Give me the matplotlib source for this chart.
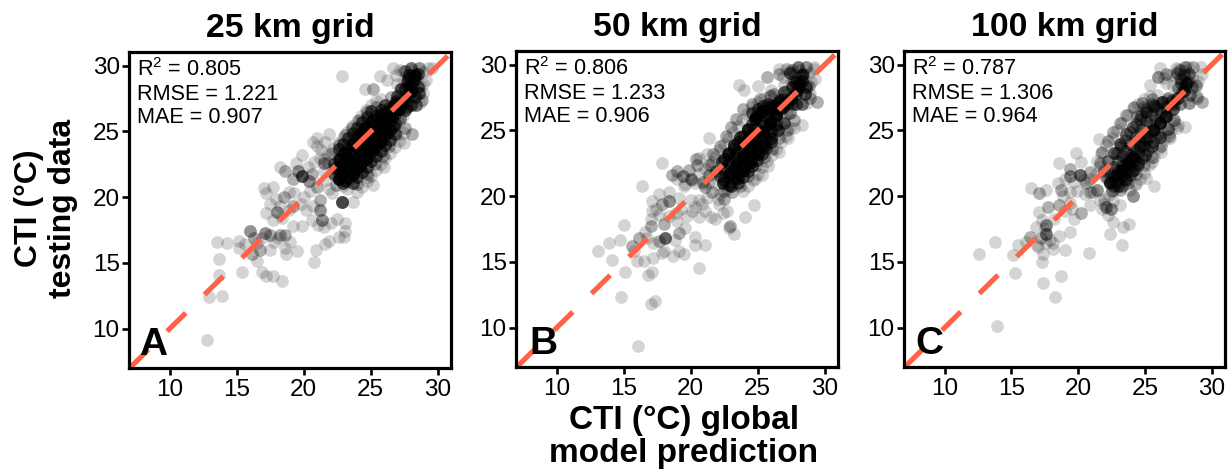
import numpy as np
import matplotlib
matplotlib.use("Agg")
import matplotlib.pyplot as plt

plt.rcParams['font.family'] = ['Liberation Sans', 'DejaVu Sans']
plt.rcParams['mathtext.default'] = 'regular'

titles = ["25 km grid", "50 km grid", "100 km grid"]
letters = ["A", "B", "C"]
letter_x = [0.03, 0.042, 0.036]
r2 = ["0.805", "0.806", "0.787"]
rmse = ["1.221", "1.233", "1.306"]
mae = ["0.907", "0.906", "0.964"]
ticks = [10, 15, 20, 25, 30]

# panel A: x, y and how many points sit on top of each other there
a_x = [12.8, 12.9, 13.9, 13.7, 13.7, 13.5, 14.3, 15.4, 15.2, 15.2,
       16.9, 17.2, 17.7, 18.4, 16.5, 16.1, 16.7, 17.5, 18.6, 18.7,
       19.5, 20.8, 20.9, 21.6, 21.9, 22.6, 23.1, 23.1, 22.5, 20.6,
       21.4, 19.85, 19.2, 18.6, 18.2, 17.5, 16.0, 17.1, 16.3, 15.6,
       18.0, 17.2, 17.5, 18.5, 17.7, 17.0, 17.2, 19.2, 19.8, 18.9,
       19.9, 19.2, 20.4, 19.6, 20.6, 18.2, 18.6, 19.4, 19.9, 20.7,
       21.0, 22.85, 28.1, 27.5, 26.0, 25.2, 24.8, 23.7, 22.85, 21.2,
       21.2, 21.0, 20.5, 20.0, 21.5, 21.3, 21.9, 24.6, 25.2, 25.7,
       22.6, 23.1, 23.6, 24.1, 24.6, 25.1, 25.6, 26.1, 26.6, 27.1,
       22.3, 22.7, 23.1, 23.6, 24.1, 24.6, 25.2, 25.8, 26.4, 21.8,
       23.1, 23.7, 24.2, 24.7, 25.2, 25.7, 26.2, 26.7, 27.2, 22.1,
       22.6, 23.1, 23.6, 24.1, 24.7, 25.4, 22.4, 23.2, 24.0, 24.7,
       25.3, 25.9, 26.4, 27.0, 27.6, 27.5, 27.9, 28.1, 27.7, 28.3,
       27.6, 28.0, 28.6, 27.2, 26.7, 29.6, 28.9, 28.8, 28.4, 27.7,
       26.9, 26.5, 26.2]
a_y = [9.1, 12.4, 12.5, 14.1, 15.3, 16.6, 16.55, 14.3, 16.7, 16.1,
       14.3, 14.0, 14.0, 13.65, 15.15, 15.7, 16.0, 16.0, 16.1, 15.7,
       15.9, 15.05, 16.0, 16.4, 16.7, 17.0, 17.4, 18.05, 18.35, 18.3,
       18.3, 17.8, 17.8, 17.1, 17.1, 17.1, 17.4, 17.3, 16.9, 16.4,
       18.9, 18.8, 19.5, 20.0, 20.8, 20.7, 20.3, 19.3, 19.5, 19.0,
       21.6, 21.4, 21.2, 22.0, 21.8, 22.3, 22.0, 22.6, 23.2, 24.2,
       23.9, 29.2, 24.8, 24.1, 22.3, 20.9, 21.5, 19.6, 19.6, 19.8,
       19.0, 20.8, 20.5, 20.0, 22.6, 23.6, 24.8, 28.2, 28.2, 29.2,
       21.4, 22.1, 22.7, 23.3, 23.9, 24.5, 25.1, 25.7, 26.2, 26.7,
       22.2, 22.9, 23.4, 24.0, 24.7, 25.3, 25.9, 26.3, 26.8, 22.6,
       21.2, 21.8, 22.4, 23.0, 23.6, 24.2, 24.9, 25.4, 26.0, 23.4,
       24.0, 24.7, 25.3, 25.9, 26.5, 26.9, 20.9, 20.6, 21.0, 21.8,
       22.5, 23.1, 23.9, 24.7, 25.3, 27.5, 28.0, 28.6, 28.8, 29.3,
       29.6, 29.8, 29.8, 29.7, 29.8, 29.8, 28.6, 27.4, 27.0, 26.9,
       27.2, 27.6, 28.9]
a_n = [1, 1, 1, 1, 1, 1, 1, 1, 1, 1,
       1, 1, 1, 1, 1, 2, 2, 1, 1, 1,
       1, 1, 1, 1, 1, 1, 1, 1, 1, 1,
       3, 1, 1, 2, 2, 2, 3, 3, 2, 1,
       3, 1, 1, 2, 1, 1, 1, 2, 1, 1,
       6, 2, 3, 3, 2, 1, 2, 1, 1, 1,
       1, 1, 2, 1, 1, 1, 1, 1, 7, 2,
       3, 2, 1, 1, 3, 1, 1, 1, 2, 1,
       7, 9, 9, 9, 9, 9, 9, 9, 8, 6,
       5, 7, 7, 7, 7, 7, 7, 7, 5, 1,
       5, 6, 7, 7, 7, 7, 6, 5, 3, 2,
       2, 2, 2, 2, 2, 2, 2, 1, 2, 2,
       2, 2, 2, 1, 2, 4, 5, 5, 4, 4,
       3, 4, 3, 1, 1, 1, 1, 2, 4, 4,
       4, 2, 1]
a_core_x = [22.6, 22.95, 23.3, 23.65, 24.0, 24.35, 24.7, 25.05, 25.4, 25.75, 26.1, 26.45, 26.8, 27.1,
            22.25, 22.6, 22.95, 23.3, 23.65, 24.0, 24.35, 24.7, 25.05, 25.4, 25.75, 26.1, 26.45, 26.75,
            22.25, 22.6, 22.95, 23.3, 23.65, 24.0, 24.35, 24.7, 25.05, 25.4, 25.75, 26.1,
            22.6, 22.95, 23.3, 23.65, 24.0, 24.35, 24.7, 25.05,
            22.95, 23.3, 23.65, 24.0, 24.35, 24.7, 25.05, 25.4, 25.75, 26.1, 26.45, 26.8,
            23.65, 24.0, 24.35, 24.7, 25.05, 25.4, 25.75, 26.1, 26.45, 26.8,
            27.6, 27.9, 28.1, 27.9, 28.2, 27.6, 28.3, 27.3, 26.9, 28.3, 27.9,
            27.3, 27.0, 28.5, 28.6, 28.0, 27.6, 27.8, 28.5]
a_core_y = [21.4, 21.8, 22.2, 22.6, 23.0, 23.45, 23.85, 24.25, 24.65, 25.05, 25.5, 25.9, 26.3, 26.7,
            21.75, 22.15, 22.55, 22.95, 23.35, 23.8, 24.2, 24.6, 25.0, 25.4, 25.85, 26.25, 26.65, 27.05,
            22.5, 22.9, 23.3, 23.7, 24.15, 24.55, 24.95, 25.35, 25.75, 26.2, 26.6, 27.0,
            23.65, 24.05, 24.5, 24.9, 25.3, 25.7, 26.1, 26.55,
            21.05, 21.45, 21.85, 22.25, 22.65, 23.1, 23.5, 23.9, 24.3, 24.7, 25.15, 25.55,
            21.1, 21.5, 21.9, 22.3, 22.75, 23.15, 23.55, 23.95, 24.35, 24.8,
            27.3, 27.7, 28.1, 28.5, 28.9, 28.2, 27.6, 27.0, 27.3, 29.3, 29.3,
            28.2, 27.7, 28.4, 27.9, 27.0, 26.6, 29.0, 29.4]
a_fill_x = [22.4, 22.8, 23.15, 23.5, 23.85, 24.2, 24.55, 24.9, 25.25, 25.6, 25.95, 26.3, 26.65, 27.0,
            22.9, 23.25, 23.6, 23.95, 24.3, 24.65, 25.0, 25.35, 25.7, 26.05, 26.4, 26.75, 27.1, 27.4,
            21.5, 21.85, 22.2, 22.55, 22.9, 23.25, 23.6, 23.95, 24.3, 24.65, 25.0, 25.4, 25.8,
            24.0, 24.35, 24.7, 25.05, 25.4, 25.75, 26.1, 26.45, 26.8, 27.15, 27.5,
            27.2, 27.5, 27.8, 28.1, 28.4, 28.7, 27.4, 27.0, 26.9, 28.7, 28.9, 29.1, 28.9, 29.3,
            20.8, 21.2, 21.5, 21.7, 21.9, 22.1, 20.3, 21.0, 21.6,
            16.5, 16.9, 17.8, 18.1, 19.0, 18.4, 17.7, 18.2, 17.9, 18.9, 19.3, 20.2, 20.7, 21.5, 21.1, 22.0, 23.0]
a_fill_y = [22.0, 22.4, 22.8, 23.2, 23.6, 24.0, 24.4, 24.85, 25.25, 25.65, 26.05, 26.5, 26.9, 27.3,
            20.85, 21.25, 21.65, 22.05, 22.45, 22.85, 23.3, 23.7, 24.1, 24.5, 24.95, 25.35, 25.75, 26.15,
            22.9, 23.3, 23.7, 24.1, 24.5, 24.95, 25.4, 25.8, 26.2, 26.6, 27.0, 27.3, 27.5,
            20.4, 20.8, 21.2, 21.65, 22.05, 22.5, 22.95, 23.4, 23.85, 24.3, 24.9,
            28.2, 28.8, 29.3, 29.7, 29.0, 28.5, 29.6, 28.6, 29.3, 27.2, 27.9, 28.9, 29.5, 29.8,
            22.7, 23.0, 22.0, 21.3, 20.6, 20.3, 22.3, 24.5, 24.2,
            16.5, 16.9, 16.6, 16.9, 16.6, 18.4, 18.3, 19.3, 19.9, 20.4, 20.3, 19.0, 19.3, 17.7, 17.9, 18.0, 17.0]

# panel B
b_x = [16.05, 14.8, 17.0, 17.35, 15.1, 16.8, 17.1, 20.65, 14.15, 13.1,
       13.9, 14.75, 15.0, 16.35, 17.85, 15.98, 16.5, 17.2, 17.85, 18.7,
       19.1, 19.5, 20.35, 21.1, 20.3, 15.6, 16.1, 15.75, 18.1, 17.6,
       19.1, 18.85, 17.0, 18.0, 16.75, 17.1, 17.85, 18.35, 17.6, 17.1,
       17.6, 18.35, 19.1, 19.0, 19.7, 20.35, 20.85, 21.1, 21.5, 21.85,
       22.7, 24.05, 24.7, 22.95, 23.2, 22.85, 20.1, 22.1, 20.6, 18.6,
       19.4, 20.0, 19.0, 20.4, 20.5, 19.9, 20.9, 21.4, 21.1, 21.6,
       22.5, 21.4, 23.6, 24.0, 25.0, 25.7, 26.0, 26.6, 27.2, 29.2,
       29.3, 29.4, 28.3, 27.7, 27.3, 26.6, 25.8, 25.3, 24.8,
       22.4, 22.9, 23.4, 23.9, 24.4, 24.9, 25.4, 25.9, 26.4, 26.9,
       21.9, 22.3, 22.8, 23.2, 23.7, 24.3, 24.8, 25.4, 26.0, 26.6,
       23.0, 23.5, 24.0, 24.5, 25.0, 25.5, 26.0, 26.5, 27.0, 27.4,
       21.4, 21.7, 22.2, 22.6, 23.0, 23.4, 23.9, 24.6, 25.2, 25.9,
       22.5, 23.1, 23.7, 24.3, 24.9, 25.5, 26.1, 26.6, 27.2, 27.7,
       27.5, 27.9, 28.1, 27.7, 28.4, 27.6, 28.0, 28.6, 27.1, 26.6,
       28.8, 28.9, 28.3, 27.6, 26.9, 26.2, 25.9]
b_y = [8.6, 12.3, 11.8, 12.0, 14.2, 14.0, 14.25, 14.55, 15.15, 15.8,
       16.4, 16.65, 17.8, 20.8, 22.5, 15.08, 15.1, 15.3, 15.65, 15.45,
       15.85, 15.6, 16.3, 16.3, 16.9, 16.2, 16.85, 15.85, 16.8, 16.6,
       17.2, 16.7, 17.75, 17.9, 16.85, 19.65, 19.4, 19.65, 20.15, 18.9,
       18.6, 20.3, 19.9, 18.1, 18.5, 19.15, 19.4, 18.9, 18.4, 18.25,
       18.9, 18.4, 19.3, 17.75, 17.15, 17.6, 18.9, 19.4, 18.4, 21.65,
       21.5, 21.3, 21.9, 22.8, 22.4, 22.0, 21.05, 21.6, 20.7, 20.3,
       19.8, 24.4, 28.5, 28.1, 28.4, 29.1, 28.1, 29.7, 29.7, 29.8,
       28.9, 27.2, 25.4, 25.2, 24.4, 23.4, 22.3, 21.6, 21.3,
       21.0, 21.7, 22.4, 23.0, 23.6, 24.2, 24.9, 25.6, 26.2, 26.8,
       21.9, 22.6, 23.2, 23.9, 24.5, 25.1, 25.9, 26.5, 26.9, 27.2,
       20.8, 21.4, 22.0, 22.6, 23.2, 23.8, 24.4, 25.0, 25.6, 26.3,
       22.4, 23.2, 23.8, 24.6, 25.3, 25.9, 26.6, 27.0, 27.4, 27.6,
       20.4, 20.3, 20.8, 21.5, 22.4, 23.0, 23.6, 24.4, 25.0, 25.8,
       27.5, 28.0, 28.6, 28.8, 29.3, 29.6, 29.8, 29.8, 29.7, 29.3,
       28.4, 27.5, 27.0, 27.0, 27.4, 27.8, 26.7]
b_n = [1, 1, 1, 1, 1, 1, 1, 1, 1, 1,
       1, 1, 1, 1, 1, 1, 1, 1, 1, 1,
       1, 1, 1, 1, 1, 2, 2, 1, 5, 2,
       2, 1, 2, 2, 1, 1, 2, 3, 1, 1,
       1, 1, 1, 1, 1, 1, 1, 1, 1, 1,
       1, 1, 1, 2, 1, 1, 1, 1, 1, 2,
       3, 3, 2, 2, 2, 2, 2, 3, 2, 2,
       2, 1, 1, 1, 1, 2, 1, 1, 1, 1,
       1, 2, 1, 1, 1, 1, 1, 1, 1,
       7, 9, 9, 9, 9, 9, 10, 10, 9, 7,
       4, 6, 7, 7, 7, 7, 9, 9, 6, 4,
       5, 6, 7, 7, 7, 7, 7, 6, 5, 3,
       2, 2, 2, 2, 2, 2, 2, 2, 2, 2,
       2, 2, 2, 2, 2, 2, 2, 2, 2, 2,
       4, 6, 6, 4, 4, 2, 4, 3, 1, 2,
       2, 2, 4, 3, 3, 2, 4]
b_core_x = [22.5, 22.85, 23.2, 23.55, 23.9, 24.25, 24.6, 24.95, 25.3, 25.65, 26.0, 26.35, 26.7, 27.0,
            22.15, 22.5, 22.85, 23.2, 23.55, 23.9, 24.25, 24.6, 24.95, 25.3, 25.65, 26.0, 26.35, 26.65,
            22.5, 22.85, 23.2, 23.55, 23.9, 24.25, 24.6, 24.95, 25.3,
            24.6, 25.0, 25.4, 25.8, 24.9,
            22.85, 23.2, 23.55, 23.9, 24.25, 24.6, 24.95, 25.3, 25.65, 26.0, 26.35,
            23.55, 23.9, 24.25, 24.6, 24.95, 25.3, 25.65, 26.0,
            27.5, 27.9, 28.1, 27.9, 28.3, 27.6, 27.3, 28.3,
            27.0, 28.6, 28.5, 27.9, 27.4]
b_core_y = [21.2, 21.7, 22.15, 22.6, 23.0, 23.45, 23.9, 24.35, 24.8, 25.3, 25.75, 26.2, 26.6, 27.0,
            21.55, 22.05, 22.5, 22.95, 23.35, 23.8, 24.25, 24.7, 25.15, 25.65, 26.1, 26.55, 26.95, 27.35,
            22.85, 23.3, 23.7, 24.15, 24.6, 25.05, 25.5, 26.0, 26.45,
            26.3, 26.6, 26.9, 27.0, 26.0,
            20.85, 21.35, 21.8, 22.25, 22.65, 23.1, 23.55, 24.0, 24.45, 24.95, 25.4,
            21.0, 21.45, 21.9, 22.3, 22.75, 23.2, 23.65, 24.1,
            27.4, 27.8, 28.2, 28.7, 28.8, 28.3, 27.1, 29.2,
            27.9, 28.3, 27.8, 27.0, 29.4]
b_fill_x = [22.3, 22.65, 23.0, 23.4, 23.75, 24.1, 24.45, 24.8, 25.15, 25.5, 25.85, 26.2, 26.55, 26.85,
            22.7, 23.05, 23.4, 23.75, 24.1, 24.45, 24.8, 25.15, 25.5, 25.85, 26.2, 26.55, 26.9, 27.2,
            21.5, 21.8, 22.1, 22.45, 22.8, 23.15, 23.5, 23.85, 24.2, 24.6, 25.0, 25.5, 26.0,
            23.9, 24.3, 24.65, 25.0, 25.35, 25.7, 26.05, 26.4, 26.75, 27.1, 27.4,
            27.2, 27.5, 27.8, 28.1, 28.4, 28.7, 27.4, 27.0, 26.9, 28.7, 28.9, 29.0, 28.8, 29.2,
            20.1, 20.6, 21.1, 21.6, 19.6, 20.3, 20.9, 21.4, 19.0, 19.5, 21.9, 22.2, 20.6, 21.2,
            17.0, 17.4, 18.9, 19.3, 20.0, 20.6, 21.2, 22.0, 22.4, 18.4, 16.6, 17.2, 19.6, 18.0]
b_fill_y = [21.9, 22.4, 22.85, 23.3, 23.7, 24.15, 24.6, 25.05, 25.5, 26.0, 26.45, 26.9, 27.3, 27.6,
            20.55, 21.05, 21.5, 21.95, 22.35, 22.8, 23.25, 23.7, 24.15, 24.65, 25.1, 25.5, 25.95, 26.3,
            22.4, 23.0, 23.55, 24.0, 24.45, 24.9, 25.35, 25.8, 26.25, 26.8, 27.2, 27.5, 27.7,
            20.4, 20.8, 21.25, 21.7, 22.2, 22.65, 23.1, 23.6, 24.1, 24.6, 25.2,
            28.0, 28.7, 29.2, 29.6, 29.0, 28.4, 29.5, 28.5, 29.1, 27.1, 27.8, 28.7, 29.4, 29.7,
            21.2, 21.7, 22.1, 22.6, 20.9, 21.0, 20.9, 21.1, 21.3, 20.8, 20.9, 20.2, 22.9, 23.2,
            18.3, 19.0, 18.7, 19.0, 19.7, 19.7, 19.9, 19.8, 18.7, 18.5, 17.3, 16.4, 17.6, 15.8]

# panel C
c_x = [13.95, 18.25, 17.4, 18.7, 15.25, 17.3, 17.4, 12.55, 13.75, 15.15,
       15.5, 19.0, 18.1, 20.8, 23.25, 22.4, 23.35, 23.8, 22.6, 19.4,
       18.6, 17.6, 17.6, 17.2, 16.4, 16.85, 18.1, 17.1, 17.75, 18.6,
       19.7, 20.2, 20.85, 19.35, 16.45, 17.1, 17.6, 18.5, 18.75, 19.35,
       18.6, 19.8, 20.2, 19.35, 20.1, 19.35, 20.85, 20.6, 21.4, 20.9,
       22.1, 22.45, 23.1, 21.9, 24.1, 25.7, 25.1, 21.55, 26.1, 27.35,
       29.2, 25.35, 26.0, 26.6, 29.3, 28.0, 27.4, 26.9, 26.2, 25.5,
       22.4, 22.9, 23.3, 23.7, 24.1, 24.6, 25.1, 25.6, 26.1, 26.6,
       27.1, 21.9, 22.2, 22.7, 23.1, 23.6, 24.1, 24.6, 25.1, 25.7,
       26.3, 23.0, 23.5, 24.0, 24.5, 25.0, 25.5, 26.1, 26.7, 27.2,
       21.6, 21.8, 22.2, 22.6, 23.1, 23.6, 24.2, 24.8, 25.5, 22.5,
       23.1, 23.7, 24.3, 24.9, 25.5, 26.2, 26.8, 27.5, 27.5, 27.9,
       28.1, 27.7, 28.3, 27.6, 28.0, 28.6, 28.8, 28.9, 28.3, 27.6,
       27.0, 24.4, 24.9]
c_y = [10.15, 12.35, 13.4, 13.9, 14.15, 15.0, 15.6, 15.6, 16.55, 15.5,
       16.25, 15.9, 16.0, 15.65, 16.25, 17.15, 17.65, 17.9, 18.05, 17.3,
       17.0, 17.8, 17.15, 16.8, 16.9, 17.65, 16.4, 18.8, 19.2, 19.3,
       18.3, 18.7, 19.3, 19.45, 20.65, 20.25, 20.45, 21.0, 20.5, 20.3,
       22.5, 23.3, 22.6, 22.1, 21.6, 21.5, 21.85, 21.0, 20.5, 20.3,
       19.2, 19.05, 19.3, 19.4, 20.0, 20.75, 21.4, 24.35, 29.75, 29.75,
       29.85, 28.45, 29.1, 29.3, 27.2, 25.3, 25.2, 24.4, 23.4, 22.6,
       21.0, 21.6, 22.0, 22.5, 23.0, 23.8, 24.4, 25.0, 25.6, 26.1,
       26.6, 21.9, 22.7, 23.3, 24.0, 24.7, 25.3, 25.9, 26.4, 26.9,
       27.2, 20.8, 21.3, 21.9, 22.5, 23.1, 23.8, 24.5, 25.1, 25.8,
       22.5, 23.4, 24.2, 24.9, 25.6, 26.2, 26.8, 27.1, 27.4, 20.4,
       20.5, 21.0, 21.7, 22.4, 23.0, 23.8, 24.6, 25.4, 27.5, 28.0,
       28.6, 28.9, 29.3, 29.6, 29.8, 29.8, 28.5, 27.5, 27.1, 27.0,
       27.3, 26.1, 26.8]
c_n = [1, 1, 1, 1, 1, 1, 1, 1, 1, 1,
       1, 1, 1, 1, 1, 1, 1, 1, 1, 1,
       1, 3, 4, 2, 2, 1, 1, 1, 2, 2,
       1, 2, 1, 1, 1, 2, 1, 1, 2, 1,
       1, 1, 1, 2, 5, 3, 2, 2, 3, 2,
       3, 3, 1, 1, 3, 1, 1, 1, 1, 1,
       1, 1, 3, 2, 2, 1, 1, 1, 1, 1,
       7, 9, 10, 10, 9, 7, 6, 7, 7, 7,
       5, 3, 4, 5, 5, 4, 4, 4, 5, 5,
       4, 4, 5, 5, 5, 5, 5, 5, 4, 3,
       2, 2, 2, 2, 2, 2, 2, 2, 2, 2,
       2, 2, 2, 2, 2, 2, 2, 1, 4, 5,
       6, 3, 4, 2, 3, 2, 2, 2, 3, 3,
       3, 2, 2]
c_core_x = [22.4, 22.7, 23.0, 23.3, 23.6, 23.9, 24.2, 24.6, 25.0, 25.4, 25.8, 26.2, 26.6, 27.0,
            22.1, 22.4, 22.7, 23.0, 23.3, 23.6, 23.9, 24.3, 24.7, 25.1, 25.5, 25.9, 26.3, 26.7,
            22.9, 23.2, 23.5, 23.9, 24.3, 24.7, 25.1, 25.5,
            22.7, 23.0, 23.3, 23.6, 23.9, 24.2, 24.5, 24.9, 25.3, 25.7, 26.1, 26.5,
            23.3, 23.6, 23.9, 24.2, 24.5, 24.8, 25.2, 25.6, 26.0,
            27.4, 27.8, 28.0, 27.7, 28.2, 27.5, 27.2,
            28.5, 28.4, 27.9, 27.4]
c_core_y = [21.1, 21.5, 21.9, 22.3, 22.7, 23.1, 23.6, 24.2, 24.8, 25.4, 25.9, 26.4, 26.8, 27.2,
            21.45, 21.85, 22.25, 22.65, 23.05, 23.45, 23.95, 24.55, 25.15, 25.75, 26.25, 26.75, 27.15, 27.45,
            23.3, 23.8, 24.3, 24.9, 25.5, 26.1, 26.6, 27.0,
            20.75, 21.15, 21.55, 21.95, 22.35, 22.75, 23.25, 23.85, 24.45, 25.05, 25.55, 26.05,
            20.8, 21.2, 21.6, 22.0, 22.4, 22.9, 23.5, 24.1, 24.7,
            27.5, 27.9, 28.3, 28.6, 28.7, 28.2, 27.0,
            28.3, 27.7, 29.2, 29.4]
c_fill_x = [22.2, 22.5, 22.85, 23.2, 23.55, 23.9, 24.25, 24.65, 25.05, 25.45, 25.85, 26.25, 26.65,
            22.55, 22.85, 23.15, 23.45, 23.8, 24.15, 24.5, 24.85, 25.25, 25.65, 26.05, 26.45, 26.85,
            21.4, 21.7, 22.1, 22.5, 22.9, 23.3, 23.7, 24.1, 24.5, 24.95, 25.4, 25.9,
            23.9, 24.25, 24.6, 24.95, 25.3, 25.65, 26.05, 26.45, 26.85, 27.2,
            26.6, 26.9, 27.1, 27.3, 27.5, 27.9, 28.2, 28.5, 28.8, 28.9, 29.0, 29.3, 26.4, 27.6,
            19.7, 20.4, 20.9, 21.3, 21.6, 21.1, 20.5, 19.9, 19.0, 18.9, 21.9, 22.3, 22.7, 24.3,
            17.3, 17.5, 17.9, 17.0, 17.6, 18.2, 19.0, 19.5, 21.6, 21.8, 22.2, 22.6, 16.9, 16.1]
c_fill_y = [21.2, 21.65, 22.05, 22.5, 22.95, 23.55, 24.2, 24.8, 25.4, 26.0, 26.5, 26.95, 27.3,
            20.5, 20.95, 21.4, 21.8, 22.2, 22.7, 23.3, 23.9, 24.5, 25.1, 25.6, 26.05, 26.5,
            22.7, 23.3, 23.9, 24.4, 25.0, 25.6, 26.2, 26.7, 27.0, 27.4, 27.6, 27.7,
            20.5, 20.9, 21.3, 21.8, 22.4, 23.0, 23.7, 24.3, 24.9, 25.6,
            28.6, 29.2, 28.4, 29.1, 29.7, 29.5, 29.8, 29.1, 28.4, 27.6, 28.8, 29.3, 29.0, 28.9,
            21.1, 21.2, 21.3, 21.7, 22.3, 20.3, 20.2, 20.4, 21.3, 20.0, 19.8, 20.1, 20.5, 20.9,
            18.2, 17.6, 16.7, 16.1, 16.4, 18.3, 18.9, 19.0, 19.7, 19.0, 18.6, 19.6, 16.3, 16.5]

panels = [(a_x, a_y, a_n, a_core_x, a_core_y, 5, a_fill_x, a_fill_y),
          (b_x, b_y, b_n, b_core_x, b_core_y, 5, b_fill_x, b_fill_y),
          (c_x, c_y, c_n, c_core_x, c_core_y, 3, c_fill_x, c_fill_y)]
boxes = [(129, 451, 52, 368), (516, 838, 51, 367), (904, 1225, 51, 367)]

W, H = 1228, 473
fig = plt.figure(figsize=(W / 100, H / 100), dpi=100)

for i, (px, py, pn, cx, cy, cn, fx, fy) in enumerate(panels):
    x0, x1, y0, y1 = boxes[i]
    ax = fig.add_axes([x0 / W, 1 - y1 / H, (x1 - x0) / W, (y1 - y0) / H])
    all_x = np.concatenate([np.repeat(px, pn), np.repeat(cx, cn), fx])
    all_y = np.concatenate([np.repeat(py, pn), np.repeat(cy, cn), fy])
    ax.scatter(all_x, all_y, s=84, color="black", alpha=0.17, linewidths=0)
    ax.plot([7, 31], [7, 31], color="#FF6347", lw=3.7,
            linestyle=(0, (5.1, 5.1)), dash_capstyle="butt")
    ax.set_xlim(6.95, 31)
    ax.set_ylim(7, 31.05)
    ax.set_xticks(ticks)
    ax.set_yticks(ticks)
    ax.tick_params(length=4.7, width=1.9, labelsize=17.5, pad=2, color="black")
    ax.tick_params(axis="x", pad=3)
    for s in ax.spines.values():
        s.set_linewidth(2.3)
    ax.set_title(titles[i], fontsize=24.3, fontweight="bold", pad=11)
    ax.text(0.025, 0.925, "R$^{2}$ = " + r2[i], transform=ax.transAxes,
            fontsize=15.6, va="baseline")
    ax.text(0.025, 0.848, "RMSE = " + rmse[i], transform=ax.transAxes,
            fontsize=15.6, va="baseline")
    ax.text(0.025, 0.775, "MAE = " + mae[i], transform=ax.transAxes,
            fontsize=15.6, va="baseline")
    ax.text(letter_x[i], 0.041, letters[i], transform=ax.transAxes, fontsize=28,
            fontweight="bold", va="baseline")

fig.text(46 / W, 1 - 208 / H, "CTI (°C)\ntesting data", rotation=90, ha="center",
         va="center", fontsize=23, fontweight="bold", linespacing=1.14)
fig.text(684 / W, 1 - 437 / H, "CTI (°C) global\nmodel prediction", ha="center",
         va="center", fontsize=24, fontweight="bold", linespacing=1.12)

fig.savefig("out.png", dpi=100)
